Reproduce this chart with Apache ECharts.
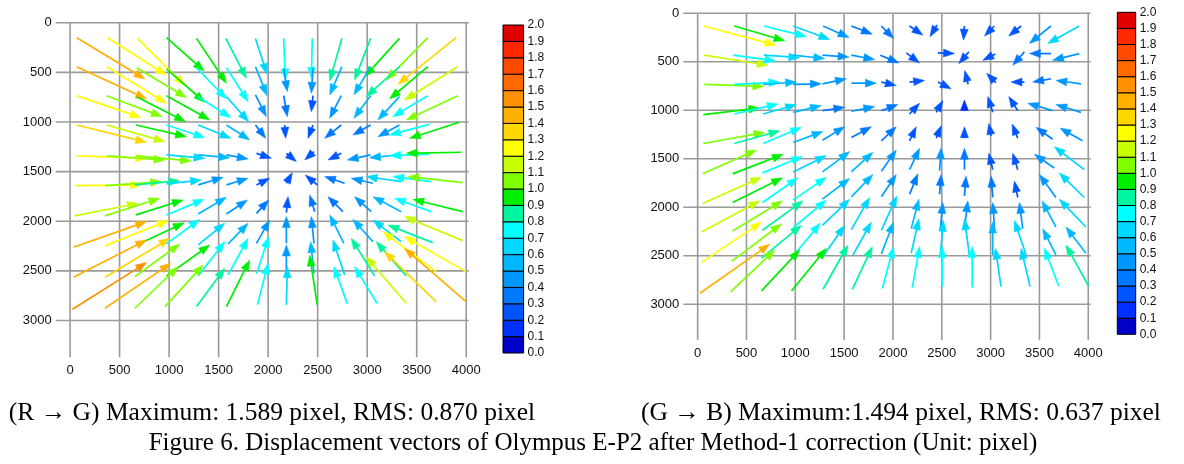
<!DOCTYPE html>
<html>
<head>
<meta charset="utf-8">
<script src="https://cdn.jsdelivr.net/npm/echarts@6/dist/echarts.min.js"></script>
<style>
html,body{margin:0;padding:0;background:#fff;}
#chart{width:1184px;height:464px;}
</style>
</head>
<body>
<div id="chart"></div>
<script>
// ---- data (data units: image pixels) ----
const xTicks = [0, 500, 1000, 1500, 2000, 2500, 3000, 3500, 4000];
const yTicks = [0, 500, 1000, 1500, 2000, 2500, 3000];
const colorSteps = ['#0000c8','#0030ff','#0055ff','#0078ff','#0098ff','#00b8ff','#00d8ff','#00ffff','#00f5a0','#00ee00',
                    '#80ff00','#c8ff00','#ffff00','#ffd700','#ffb000','#ff9000','#ff6a00','#ff4800','#ff2800','#e00000'];
// displacement vectors [tailX, tailY, headX, headY]
const rgArrows = [
[67,151,756,567],[380,151,974,527],[682,158,1159,634],[974,151,1354,487],[1277,158,1579,611],[1572,158,1781,560],[1872,158,1989,520],[2157,158,2174,577],[2446,158,2436,560],[2745,158,2621,587],[3034,158,2873,577],[3326,158,2974,544],[3612,151,3192,577],[3898,151,3310,621],
[67,443,773,768],[370,443,974,812],[672,453,1176,755],[974,466,1361,802],[1277,453,1579,768],[1579,453,1798,795],[1872,443,1989,735],[2157,460,2194,695],[2453,453,2436,711],[2745,443,2621,728],[3034,443,2866,728],[3326,443,2990,745],[3612,443,3226,768],[3914,443,3377,779],
[67,735,716,956],[370,735,931,946],[672,745,1166,997],[974,735,1411,980],[1294,745,1623,956],[1579,745,1804,997],[1872,728,1982,946],[2157,735,2194,946],[2453,735,2436,896],[2738,735,2621,963],[3034,735,2866,963],[3326,745,3108,980],[3612,735,3259,946],[3914,735,3394,980],
[67,1030,773,1205],[370,1030,958,1198],[665,1030,1176,1148],[974,1030,1361,1158],[1294,1030,1623,1165],[1579,1030,1814,1181],[1872,1030,1976,1165],[2167,1030,2177,1165],[2453,1030,2402,1165],[2738,1030,2570,1165],[3034,1030,2856,1131],[3326,1030,3108,1148],[3629,1024,3226,1131],[3931,1003,3427,1165],
[67,1342,773,1366],[370,1342,958,1383],[672,1342,1226,1393],[974,1332,1361,1366],[1294,1332,1613,1359],[1579,1332,1798,1372],[1882,1316,2033,1366],[2184,1316,2285,1399],[2463,1299,2369,1383],[2738,1316,2604,1383],[3034,1332,2799,1383],[3326,1332,3024,1359],[3629,1325,3226,1339],[3948,1305,3394,1315],
[50,1641,722,1634],[353,1641,924,1601],[655,1634,1109,1591],[974,1624,1327,1584],[1294,1634,1546,1557],[1579,1634,1798,1567],[1882,1634,2016,1567],[2184,1617,2244,1510],[2496,1634,2375,1534],[2772,1617,2570,1550],[3058,1617,2839,1567],[3343,1601,2990,1550],[3646,1601,3259,1550],[3965,1611,3410,1550],
[44,1946,689,1819],[353,1946,907,1768],[665,1936,1142,1785],[974,1936,1354,1779],[1294,1926,1579,1758],[1579,1926,1791,1785],[1882,1920,2006,1785],[2184,1913,2201,1752],[2470,1903,2419,1735],[2755,1903,2604,1752],[3041,1903,2873,1752],[3343,1903,3058,1752],[3646,1903,3276,1768],[3965,1903,3461,1779],
[34,2262,773,2003],[353,2248,991,1993],[672,2238,1152,2014],[974,2228,1310,1980],[1294,2238,1562,2020],[1596,2228,1798,2020],[1882,2222,2016,1987],[2184,2222,2184,1953],[2463,2222,2436,1953],[2765,2222,2621,1936],[3058,2205,2856,1980],[3343,2205,3058,1987],[3662,2215,3209,2037],[3965,2195,3377,1953],
[34,2564,773,2188],[353,2564,1008,2171],[655,2557,1109,2228],[974,2550,1411,2238],[1294,2550,1562,2205],[1596,2540,1798,2171],[1882,2530,2006,2154],[2184,2507,2184,2238],[2463,2524,2429,2205],[2772,2540,2654,2188],[3074,2550,2839,2171],[3394,2550,3091,2205],[3696,2507,3158,2104],[3998,2507,3377,2154],
[24,2886,773,2416],[353,2876,1018,2423],[655,2876,1092,2456],[958,2859,1344,2440],[1277,2859,1562,2473],[1579,2859,1814,2389],[1892,2842,1999,2423],[2184,2842,2194,2456],[2496,2842,2419,2339],[2799,2832,2664,2456],[3098,2826,2873,2456],[3394,2826,2990,2356],[3696,2809,3175,2305],[3998,2809,3377,2272]
];
const gbArrows = [
[65,131,801,329],[375,131,893,284],[678,131,1114,239],[978,131,1353,270],[1284,131,1550,249],[1574,131,1789,215],[1881,131,2007,260],[2170,131,2307,225],[2451,120,2379,241],[2732,131,2722,277],[3039,131,2937,235],[3312,131,3186,235],[3618,131,3397,311],[3908,131,3584,311],
[65,432,722,536],[365,432,801,491],[678,432,1046,457],[978,432,1301,467],[1278,432,1550,450],[1574,432,1813,477],[1870,432,2061,512],[2136,408,2272,512],[2460,408,2630,415],[2777,398,2674,519],[3049,420,2920,484],[3346,398,3226,536],[3618,415,3397,415],[3908,415,3635,484],
[68,733,678,754],[375,733,842,709],[671,733,1012,709],[978,733,1267,727],[1278,727,1523,675],[1574,720,1830,720],[1881,709,2034,744],[2170,709,2324,692],[2460,709,2596,779],[2770,733,2735,590],[3055,715,2959,619],[3346,709,3209,709],[3618,675,3431,709],[3925,727,3669,692],
[58,1045,637,976],[375,1038,824,934],[671,1038,1012,941],[978,1021,1267,951],[1278,1003,1506,969],[1574,1010,1813,962],[1881,1003,2051,941],[2170,1038,2273,927],[2443,1021,2511,900],[2732,1003,2732,893],[3022,1021,2971,858],[3278,1003,3186,858],[3635,1003,3380,927],[3925,1021,3669,941],
[58,1342,688,1228],[375,1342,842,1211],[671,1342,1063,1176],[978,1332,1284,1218],[1278,1308,1506,1169],[1574,1280,1779,1169],[1881,1315,2034,1169],[2170,1315,2238,1169],[2443,1287,2494,1159],[2732,1287,2732,1169],[3005,1263,2981,1135],[3278,1287,3220,1142],[3635,1298,3465,1176],[3942,1315,3710,1183],
[51,1655,603,1409],[358,1655,876,1453],[664,1645,1073,1476],[978,1635,1318,1466],[1278,1635,1557,1426],[1574,1635,1795,1432],[1881,1628,2034,1409],[2170,1612,2273,1392],[2477,1622,2494,1385],[2732,1612,2732,1392],[3022,1612,2981,1443],[3278,1612,3226,1443],[3652,1595,3448,1453],[3959,1612,3652,1375],
[51,1960,654,1689],[358,1950,869,1696],[664,1950,1029,1696],[978,1926,1318,1689],[1278,1916,1557,1703],[1574,1892,1795,1662],[1881,1892,2034,1662],[2170,1865,2255,1655],[2477,1865,2494,1662],[2732,1882,2749,1679],[3022,1899,3005,1679],[3278,1899,3243,1730],[3669,1899,3499,1662],[3959,1899,3703,1645],
[41,2254,637,1933],[358,2244,869,1933],[664,2237,1080,1933],[978,2210,1318,1926],[1278,2186,1557,1916],[1574,2230,1761,1899],[1881,2237,2041,1882],[2187,2220,2266,1916],[2484,2237,2511,1950],[2732,2220,2767,1933],[3039,2210,3022,1950],[3329,2220,3295,1950],[3669,2203,3526,1933],[3976,2203,3703,1916],
[41,2568,654,2152],[348,2558,859,2169],[654,2524,1063,2186],[961,2524,1257,2162],[1284,2507,1506,2186],[1591,2490,1779,2152],[1881,2480,2007,2152],[2187,2473,2266,2118],[2484,2490,2518,2135],[2784,2500,2732,2118],[3022,2490,3022,2152],[3363,2490,3243,2135],[3669,2490,3533,2220],[3976,2473,3772,2203],
[24,2886,739,2379],[337,2872,791,2439],[654,2862,1046,2439],[961,2862,1318,2422],[1284,2845,1540,2389],[1584,2845,1789,2405],[1891,2838,2007,2405],[2198,2828,2273,2405],[2504,2818,2504,2405],[2811,2828,2811,2405],[3107,2818,3049,2422],[3404,2818,3312,2422],[3697,2811,3550,2422],[4003,2811,3772,2389]
];
// arrow length (image px) that corresponds to 1 pixel of displacement
const rgScale = 555;
const gbScale = 590;
const captionLeft = '(R \u2192 G) Maximum: 1.589 pixel, RMS: 0.870 pixel';
const captionRight = '(G \u2192 B) Maximum:1.494 pixel, RMS: 0.637 pixel';
const captionFig = 'Figure 6. Displacement vectors of Olympus E-P2 after Method-1 correction (Unit: pixel)';

// ---- rendering ----
function withMag(arr, scale) {
  return arr.map(a => [a[0], a[1], a[2], a[3], Math.hypot(a[2]-a[0], a[3]-a[1]) / scale]);
}
function arrowItem(params, api) {
  const a = api.coord([api.value(0), api.value(1)]);
  const b = api.coord([api.value(2), api.value(3)]);
  const idx = Math.max(0, Math.min(19, Math.floor(api.value(4) * 10)));
  const c = colorSteps[idx];
  const dx = b[0]-a[0], dy = b[1]-a[1];
  const L = Math.hypot(dx, dy) || 1;
  const ux = dx / L, uy = dy / L;
  const hl = Math.min(11, L), hw = 4;
  const bx = b[0] - ux*hl, by = b[1] - uy*hl;
  return {type:'group', children:[
    {type:'line', shape:{x1:a[0], y1:a[1], x2:bx+ux*1, y2:by+uy*1}, style:{stroke:c, lineWidth:1.7}},
    {type:'polygon', shape:{points:[[b[0],b[1]],[bx-uy*hw, by+ux*hw],[bx+uy*hw, by-ux*hw]]}, style:{fill:c, stroke:c, lineWidth:0.5}}
  ]};
}
function gridLineItem(vertical, lo, hi) {
  return function(params, api) {
    const v = api.value(0);
    const p1 = vertical ? api.coord([v, lo]) : api.coord([lo, v]);
    const p2 = vertical ? api.coord([v, hi]) : api.coord([hi, v]);
    return {type:'line', shape:{x1:p1[0], y1:p1[1], x2:p2[0], y2:p2[1]}, style:{stroke:'#9a9a9a', lineWidth:1.6}};
  };
}
function barItem(params, api) {
  const i = api.value(0);
  const p1 = api.coord([0, i*0.1 + 0.1]);
  const p2 = api.coord([1, i*0.1]);
  return {type:'rect', shape:{x:p1[0], y:p1[1], width:p2[0]-p1[0], height:p2[1]-p1[1]}, style:{fill:colorSteps[i], stroke:'#000', lineWidth:1}};
}
const barIdx = colorSteps.map((c, i) => [i]);
const labelFont = {fontFamily:'Liberation Sans, Arial, sans-serif', fontSize:13, color:'#111', formatter:v => String(v)};

const panels = [
  {grid:{left:55.7, top:22.7, width:413, height:334.6}, xr:[-145, 4025], yr:[0, 3370], data:withMag(rgArrows, rgScale),
   bar:{left:503, top:25, width:20.6, height:328}},
  {grid:{left:683.3, top:13.3, width:407.4, height:326.7}, xr:[-147, 4025], yr:[0, 3368], data:withMag(gbArrows, gbScale),
   bar:{left:1117.3, top:12.3, width:18.4, height:322}}
];

const grids = [], xAxes = [], yAxes = [], series = [];
panels.forEach((p, k) => {
  const gi = grids.length;
  grids.push(p.grid);
  xAxes.push({type:'value', gridIndex:gi, min:p.xr[0], max:p.xr[1], axisLine:{show:false}, axisTick:{show:false}, splitLine:{show:false},
    axisLabel:Object.assign({customValues:xTicks, margin:7}, labelFont)});
  yAxes.push({type:'value', gridIndex:gi, min:p.yr[0], max:p.yr[1], inverse:true, axisLine:{show:false}, axisTick:{show:false}, splitLine:{show:false},
    axisLabel:Object.assign({customValues:yTicks, margin:4}, labelFont)});
  series.push({type:'custom', xAxisIndex:gi, yAxisIndex:gi, data:xTicks.map(v=>[v]), renderItem:gridLineItem(true, p.yr[0], p.yr[1]), z:1, silent:true, clip:false});
  series.push({type:'custom', xAxisIndex:gi, yAxisIndex:gi, data:yTicks.map(v=>[v]), renderItem:gridLineItem(false, p.xr[0], p.xr[1]), z:1, silent:true, clip:false});
  series.push({type:'custom', xAxisIndex:gi, yAxisIndex:gi, data:p.data, renderItem:arrowItem, z:3, silent:true, clip:false});
  const bi = grids.length;
  grids.push(p.bar);
  xAxes.push({type:'value', gridIndex:bi, min:0, max:1, show:false});
  yAxes.push({type:'value', gridIndex:bi, min:0, max:2, interval:0.1, position:'right', axisLine:{show:false}, axisTick:{show:false}, splitLine:{show:false},
    axisLabel:{formatter:v=>v.toFixed(1), margin:4, fontFamily:'Liberation Sans, Arial, sans-serif', fontSize:12, color:'#111', showMinLabel:true, showMaxLabel:true}});
  series.push({type:'custom', xAxisIndex:bi, yAxisIndex:bi, data:barIdx, renderItem:barItem, z:2, silent:true, clip:false});
});

const capFont = 'Liberation Serif, Times New Roman, serif';
const chart = echarts.init(document.getElementById('chart'), null, {renderer:'canvas'});
chart.setOption({
  backgroundColor:'#fff',
  animation:false,
  grid:grids, xAxis:xAxes, yAxis:yAxes, series:series,
  graphic:[
    {type:'text', x:272, y:413, style:{text:captionLeft, font:'25.5px ' + capFont, fill:'#000', align:'center', verticalAlign:'middle'}},
    {type:'text', x:901, y:413, style:{text:captionRight, font:'25.5px ' + capFont, fill:'#000', align:'center', verticalAlign:'middle'}},
    {type:'text', x:593, y:443, style:{text:captionFig, font:'25px ' + capFont, fill:'#000', align:'center', verticalAlign:'middle'}}
  ]
});
</script>
</body>
</html>
